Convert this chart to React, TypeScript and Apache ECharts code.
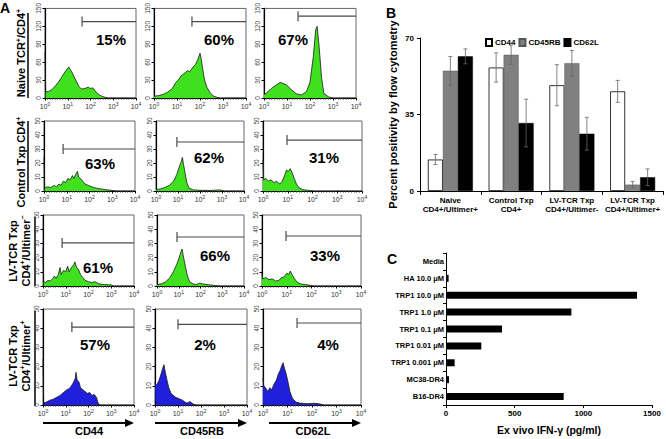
import React, { useEffect, useRef } from "react";
import * as echarts from "echarts";

const FONT = "'Liberation Sans', Arial, Helvetica, sans-serif";

// ---------------- Panel A data ----------------
const markerNames = ["CD44", "CD45RB", "CD62L"];
const rowLabels = [
  "Naive TCR{s|+}/CD4{s|+}",
  "Control Txp CD4{s|+}",
  "LV-TCR Txp\nCD4{s|+}/Ultimer{s|−}",
  "LV-TCR Txp\nCD4{s|+}/Ultimer{s|+}",
];
const histYMax = [150, 50, 50, 50];
const histYStep = [30, 10, 10, 10];
const gatePct = [
  ["15%", "60%", "67%"],
  ["63%", "62%", "31%"],
  ["61%", "66%", "33%"],
  ["57%", "2%", "4%"],
];
// gate start (log10 fluorescence) and gate level (events)
const gateStart = [
  [1.63, 1.65, 1.48],
  [0.84, 0.95, 0.97],
  [0.84, 0.92, 0.97],
  [1.27, 1.0, 1.39],
];
const gateLevel = [
  [128, 128, 137],
  [30, 35, 36.4],
  [30.3, 34.5, 35.2],
  [40.6, 42, 42.7],
];

// histograms: [log10 fluorescence, events]
const hNaiveCD44 = [[0,77],[0.03,10],[0.15,11],[0.3,14],[0.45,20],[0.6,27],[0.75,36],[0.9,45],[1.0,50],[1.05,52],[1.12,47],[1.2,42],[1.35,30],[1.5,19],[1.6,15],[1.75,16],[1.9,18],[2.0,16],[2.1,17],[2.2,12],[2.35,6],[2.5,3],[2.65,1],[2.8,0],[4,0]];
const hNaiveCD45RB = [[0,3],[0.2,4],[0.4,6],[0.6,10],[0.8,16],[0.95,26],[1.05,30],[1.2,38],[1.35,42],[1.45,46],[1.55,44],[1.7,52],[1.8,56],[1.9,64],[2.0,75],[2.05,66],[2.12,48],[2.2,30],[2.3,18],[2.45,8],[2.6,3],[2.75,1],[2.9,0],[4,0]];
const hNaiveCD62L = [[0,6],[0.1,8],[0.32,16],[0.54,22],[0.7,26],[0.8,25],[0.97,22],[1.19,14],[1.41,7],[1.63,5],[1.85,11],[2.0,27],[2.14,68],[2.25,115],[2.31,120],[2.4,85],[2.5,35],[2.6,8],[2.8,2],[3.0,0],[4,0]];
const hCtrlCD44 = [[0,24],[0.03,2],[0.15,3],[0.3,2.5],[0.45,4],[0.55,3],[0.65,5],[0.75,4],[0.85,7],[0.95,6],[1.05,9],[1.15,8],[1.25,11],[1.32,9],[1.4,12],[1.47,14],[1.52,10],[1.6,9],[1.7,7],[1.8,5],[1.95,4],[2.1,3],[2.3,2],[2.5,1.5],[2.7,1],[2.9,0.6],[3.2,0],[4,0]];
const hCtrlCD45RB = [[0,1],[0.2,1.5],[0.4,2.5],[0.6,4],[0.8,7],[0.95,12],[1.05,17],[1.15,21],[1.2,24],[1.25,19],[1.32,13],[1.4,6],[1.5,2],[1.7,0.8],[2.0,0.5],[2.5,0.4],[2.9,0.8],[3.1,0],[4,0]];
const hCtrlCD62L = [[0,22],[0.03,8],[0.12,9],[0.22,7],[0.32,8],[0.45,6],[0.55,7],[0.68,5],[0.78,7],[0.87,11],[0.95,15],[1.02,14],[1.1,16],[1.18,13],[1.26,9],[1.35,5],[1.45,2.5],[1.6,1],[1.8,0.5],[2.05,0],[4,0]];
const hNegCD44 = [[0,27],[0.03,3],[0.12,2.5],[0.22,4],[0.32,3.5],[0.42,5],[0.5,7],[0.58,5.5],[0.67,8],[0.75,13],[0.8,8],[0.9,11],[1.0,10],[1.08,14],[1.15,10],[1.25,13],[1.35,15],[1.4,17],[1.48,13],[1.55,12],[1.65,8],[1.75,6],[1.85,4],[2.0,3],[2.15,2.5],[2.3,3],[2.45,1.5],[2.7,1],[3.0,0.8],[3.1,0],[4,0]];
const hNegCD45RB = [[0,1],[0.2,1.5],[0.4,3],[0.6,6],[0.75,10],[0.9,15],[1.0,19],[1.1,24],[1.15,26],[1.2,22],[1.3,14],[1.4,7],[1.5,3],[1.65,1.5],[1.8,1],[1.95,2],[2.1,1.5],[2.3,1],[2.6,0.5],[2.9,0],[4,0]];
const hNegCD62L = [[0,9],[0.03,5],[0.15,6],[0.28,4.5],[0.42,5],[0.55,3.5],[0.68,4],[0.8,6],[0.9,6.5],[1.0,9],[1.08,8],[1.14,10.5],[1.22,8],[1.3,5.5],[1.4,3],[1.55,1.5],[1.75,1],[1.95,0.5],[2.1,0],[4,0]];
const hPosCD44 = [[0,24],[0.03,1],[0.15,1.5],[0.3,2.5],[0.45,3],[0.6,4],[0.75,5],[0.9,6.5],[1.05,8],[1.15,8.5],[1.25,10],[1.35,12],[1.42,14],[1.45,17],[1.5,13],[1.58,12],[1.65,9],[1.75,8],[1.85,7],[1.95,6],[2.05,6.5],[2.15,5],[2.25,5.5],[2.35,4],[2.42,1],[2.5,0],[4,0]];
const hPosCD45RB = [[0,12],[0.03,10],[0.1,11],[0.18,13],[0.26,16],[0.33,19],[0.39,21],[0.45,17],[0.52,13],[0.6,9],[0.7,6],[0.8,5],[0.9,4],[1.0,3.5],[1.1,3],[1.2,2.5],[1.3,1.5],[1.4,1],[1.52,1.8],[1.6,1],[1.7,0.3],[1.8,0],[4,0]];
const hPosCD62L = [[0,14],[0.03,10],[0.1,9],[0.2,7],[0.28,9],[0.36,8],[0.45,11],[0.55,13],[0.62,16],[0.7,18],[0.78,21],[0.82,22],[0.88,19],[0.95,16],[1.02,12],[1.1,7],[1.2,3.5],[1.35,1.5],[1.5,1],[1.8,0.7],[2.1,0.9],[2.3,0.6],[2.5,0],[4,0]];

const histograms = [
  [hNaiveCD44, hNaiveCD45RB, hNaiveCD62L],
  [hCtrlCD44, hCtrlCD45RB, hCtrlCD62L],
  [hNegCD44, hNegCD45RB, hNegCD62L],
  [hPosCD44, hPosCD45RB, hPosCD62L],
];

// ---------------- Panel B data ----------------
const bCategories = [
  "Naive\nCD4+/Ultimer+",
  "Control Txp\nCD4+",
  "LV-TCR Txp\nCD4+/Ultimer-",
  "LV-TCR Txp\nCD4+/Ultimer+",
];
const bSeriesNames = ["CD44", "CD45RB", "CD62L"];
const cd44Pct = [14.4, 56.5, 48.4, 45.6];
const cd44Err = [2.3, 6.7, 9.4, 5.0];
const cd45rbPct = [55.0, 62.3, 58.5, 2.9];
const cd45rbErr = [6.5, 4.4, 5.8, 1.5];
const cd62lPct = [61.6, 31.1, 26.2, 6.3];
const cd62lErr = [3.4, 10.9, 7.5, 3.8];
const bYTicks = { min: 0, max: 70, step: 35 };

// ---------------- Panel C data ----------------
const cCategories = [
  "Media",
  "HA 10.0 μM",
  "TRP1 10.0 μM",
  "TRP1 1.0 μM",
  "TRP1 0.1 μM",
  "TRP1 0.01 μM",
  "TRP1 0.001 μM",
  "MC38-DR4",
  "B16-DR4",
];
const ifng = [0, 19, 1391, 913, 408, 257, 63, 22, 857];
const cXTicks = { min: 0, max: 1500, step: 500 };

// ---------------- layout (pixels) ----------------
const HIST_GRIDS = [
  [[45, 7, 91, 91], [154, 7, 92, 91], [264, 7, 92, 91]],
  [[44, 121, 91, 70], [156, 121, 88, 70], [263, 121, 99, 70]],
  [[43, 215, 91, 71], [157, 215, 87, 71], [262, 215, 99, 71]],
  [[43, 309, 91, 96], [155, 309, 92, 96], [263, 309, 98, 96]],
];
const PCT_POS = [
  [[111, 39], [219, 39], [293, 39]],
  [[100, 163], [209, 157], [324, 157]],
  [[98, 267], [215, 255], [325, 255]],
  [[95, 344], [205, 344], [328, 344]],
];
const ROW_LABEL_POS = [
  { x: 21, y: 53, line: [28, 13, 98] },
  { x: 21, y: 162, line: [28, 121, 192] },
  { x: 19, y: 251, line: [35, 217, 286] },
  { x: 19, y: 356, line: [35, 311, 406] },
];
const ARROWS = [[43, 134, 89], [155, 247, 202], [269, 361, 313]];

const GREEN = "#3fe01e";
const BLUE = "#1f1fdc";

function buildOption() {
  const grid: any[] = [];
  const xAxis: any[] = [];
  const yAxis: any[] = [];
  const series: any[] = [];
  const graphic: any[] = [];

  histograms.forEach((row, r) => {
    row.forEach((data, c) => {
      const idx = r * 3 + c;
      const [l, t, w, h] = HIST_GRIDS[r][c];
      grid.push({ left: l, top: t, width: w, height: h, show: true, borderColor: "#666", borderWidth: 1 });
      xAxis.push({
        gridIndex: idx,
        type: "value",
        min: 0,
        max: 4,
        interval: 1,
        axisLine: { show: true, onZero: false, lineStyle: { color: "#000", width: 1 } },
        axisTick: { show: true, length: 2.5, lineStyle: { color: "#000" } },
        minorTick: { show: true, splitNumber: 9, length: 1.5, lineStyle: { color: "#333" } },
        splitLine: { show: false },
        axisLabel: {
          fontSize: 7,
          color: "#333",
          margin: 3,
          fontFamily: FONT,
          formatter: (v: number) => `10{s|${v}}`,
          rich: { s: { fontSize: 5, fontFamily: FONT, color: "#333", padding: [0, 0, 5, 0] } },
        },
      });
      yAxis.push({
        gridIndex: idx,
        type: "value",
        min: 0,
        max: histYMax[r],
        interval: histYStep[r],
        axisLine: { show: true, lineStyle: { color: "#000", width: 1.2 } },
        axisTick: { show: true, length: 2.5, lineStyle: { color: "#000" } },
        splitLine: { show: false },
        axisLabel: { rotate: 90, fontSize: 6.5, color: "#444", margin: 3, fontFamily: FONT },
      });
      series.push({
        type: "line",
        xAxisIndex: idx,
        yAxisIndex: idx,
        data,
        symbol: "none",
        showSymbol: false,
        lineStyle: { width: 0.8, color: "#1a1a1a" },
        areaStyle: { color: r === 3 ? BLUE : GREEN, opacity: 1 },
        z: 2,
      });
      series.push({
        type: "custom",
        xAxisIndex: idx,
        yAxisIndex: idx,
        data: [[gateStart[r][c], gateLevel[r][c]]],
        z: 3,
        renderItem: (params: any, api: any) => {
          const p = api.coord([api.value(0), api.value(1)]);
          const cs = params.coordSys;
          const x2 = cs.x + cs.width;
          const st = { stroke: "#4a4a4a", lineWidth: 1.2 };
          return {
            type: "group",
            children: [
              { type: "line", shape: { x1: p[0], y1: p[1], x2, y2: p[1] }, style: st },
              { type: "line", shape: { x1: p[0], y1: p[1] - 5, x2: p[0], y2: p[1] + 5 }, style: st },
            ],
          };
        },
      });
      const [px, py] = PCT_POS[r][c];
      graphic.push({
        type: "text",
        x: px,
        y: py,
        z: 10,
        style: {
          text: gatePct[r][c],
          fontFamily: FONT,
          fontWeight: "bold",
          fontSize: 15,
          fill: "#000",
          align: "center",
          verticalAlign: "middle",
        },
      });
    });
  });

  // Row labels + bracket lines
  rowLabels.forEach((txt, r) => {
    const pos = ROW_LABEL_POS[r];
    graphic.push({
      type: "text",
      x: pos.x,
      y: pos.y,
      rotation: Math.PI / 2,
      style: {
        text: txt,
        fontFamily: FONT,
        fontWeight: "bold",
        fontSize: 11,
        lineHeight: 13,
        fill: "#000",
        align: "center",
        verticalAlign: "middle",
        rich: { s: { fontSize: 7, fontFamily: FONT, fontWeight: "bold", padding: [0, 0, 6, 0], lineHeight: 13 } },
      },
    });
    const [lx, ly1, ly2] = pos.line;
    graphic.push({ type: "line", shape: { x1: lx, y1: ly1, x2: lx, y2: ly2 }, style: { stroke: "#000", lineWidth: 1.5 } });
  });

  // Bottom arrows and marker names
  ARROWS.forEach(([x1, x2, cx], i) => {
    graphic.push({ type: "line", shape: { x1, y1: 423, x2: x2 - 7, y2: 423 }, style: { stroke: "#000", lineWidth: 2 } });
    graphic.push({ type: "polygon", shape: { points: [[x2 - 9, 419], [x2, 423], [x2 - 9, 427]] }, style: { fill: "#000" } });
    graphic.push({
      type: "text",
      x: cx,
      y: 431,
      style: { text: markerNames[i], fontFamily: FONT, fontWeight: "bold", fontSize: 11, fill: "#000", align: "center", verticalAlign: "middle" },
    });
  });

  // Panel letters
  [["A", 5, 8], ["B", 391, 13], ["C", 392, 259]].forEach(([t, x, y]) => {
    graphic.push({
      type: "text",
      x,
      y,
      style: { text: t, fontFamily: FONT, fontWeight: "bold", fontSize: 14, fill: "#000", align: "center", verticalAlign: "middle" },
    });
  });

  // ---------------- Panel B ----------------
  const bIdx = grid.length;
  grid.push({ left: 420, top: 38, width: 243, height: 153 });
  xAxis.push({
    gridIndex: bIdx,
    type: "category",
    data: bCategories,
    axisLine: { show: true, lineStyle: { color: "#000", width: 1 } },
    axisTick: { show: true, alignWithLabel: false, length: 4, lineStyle: { color: "#000" } },
    axisLabel: { interval: 0, fontSize: 8, fontWeight: "bold", color: "#000", lineHeight: 9, margin: 5, fontFamily: FONT },
  });
  yAxis.push({
    gridIndex: bIdx,
    type: "value",
    min: bYTicks.min,
    max: bYTicks.max,
    interval: bYTicks.step,
    axisLine: { show: true, lineStyle: { color: "#000", width: 1 } },
    axisTick: { show: true, length: 3, lineStyle: { color: "#000" } },
    splitLine: { show: false },
    axisLabel: { fontSize: 8, fontWeight: "bold", color: "#000", margin: 6, fontFamily: FONT },
    name: "Percent positivity by flow cytometry",
    nameLocation: "middle",
    nameGap: 22,
    nameTextStyle: { fontSize: 11, fontWeight: "bold", color: "#000", fontFamily: FONT },
  });
  const bVals = [cd44Pct, cd45rbPct, cd62lPct];
  const bErrs = [cd44Err, cd45rbErr, cd62lErr];
  const bStyles = [
    { color: "#ffffff", borderColor: "#000", borderWidth: 0.8 },
    { color: "#808080", borderColor: "#555", borderWidth: 0.5 },
    { color: "#000000", borderColor: "#000", borderWidth: 0.5 },
  ];
  const BAR_W = 15;
  bSeriesNames.forEach((name, s) => {
    series.push({
      type: "bar",
      name,
      xAxisIndex: bIdx,
      yAxisIndex: bIdx,
      data: bVals[s],
      barWidth: BAR_W,
      barGap: "0%",
      itemStyle: bStyles[s],
    });
  });
  bSeriesNames.forEach((name, s) => {
    const offset = (s - 1) * BAR_W;
    series.push({
      type: "custom",
      xAxisIndex: bIdx,
      yAxisIndex: bIdx,
      data: bVals[s].map((v, i) => [i, v, bErrs[s][i]]),
      z: 5,
      renderItem: (params: any, api: any) => {
        const i = api.value(0);
        const v = api.value(1);
        const e = api.value(2);
        const x = api.coord([i, 0])[0] + offset;
        const yHi = api.coord([i, v + e])[1];
        const yLo = api.coord([i, v - e])[1];
        const st = { stroke: "#666", lineWidth: 0.8 };
        return {
          type: "group",
          children: [
            { type: "line", shape: { x1: x, y1: yHi, x2: x, y2: yLo }, style: st },
            { type: "line", shape: { x1: x - 2, y1: yHi, x2: x + 2, y2: yHi }, style: st },
            { type: "line", shape: { x1: x - 2, y1: yLo, x2: x + 2, y2: yLo }, style: st },
          ],
        };
      },
    });
  });

  // ---------------- Panel C ----------------
  const cIdx = grid.length;
  grid.push({ left: 446, top: 253, width: 206, height: 152 });
  xAxis.push({
    gridIndex: cIdx,
    type: "value",
    min: cXTicks.min,
    max: cXTicks.max,
    interval: cXTicks.step,
    axisLine: { show: true, lineStyle: { color: "#000", width: 1 } },
    axisTick: { show: true, length: 3, lineStyle: { color: "#000" } },
    splitLine: { show: false },
    axisLabel: { fontSize: 8, fontWeight: "bold", color: "#000", margin: 4, fontFamily: FONT, formatter: (v: number) => String(v) },
    name: "Ex vivo IFN-γ (pg/ml)",
    nameLocation: "middle",
    nameGap: 19,
    nameTextStyle: { fontSize: 10.5, fontWeight: "bold", color: "#000", fontFamily: FONT },
  });
  yAxis.push({
    gridIndex: cIdx,
    type: "category",
    data: cCategories,
    inverse: true,
    axisLine: { show: true, lineStyle: { color: "#000", width: 1 } },
    axisTick: { show: true, length: 3, lineStyle: { color: "#000" } },
    axisLabel: { interval: 0, fontSize: 7.5, fontWeight: "bold", color: "#000", margin: 2, fontFamily: FONT },
  });
  series.push({
    type: "bar",
    xAxisIndex: cIdx,
    yAxisIndex: cIdx,
    data: ifng,
    barWidth: 7,
    itemStyle: { color: "#000" },
  });

  return {
    animation: false,
    backgroundColor: "#fff",
    textStyle: { fontFamily: FONT },
    grid,
    xAxis,
    yAxis,
    series,
    graphic,
    legend: {
      data: bSeriesNames,
      left: 480,
      top: 33,
      itemWidth: 6,
      itemHeight: 7,
      itemGap: 3,
      icon: "rect",
      textStyle: { fontSize: 8, fontWeight: "bold", color: "#000", fontFamily: FONT, padding: [0, 0, 0, -2] },
    },
  };
}

export default function App() {
  const ref = useRef<HTMLDivElement>(null);
  useEffect(() => {
    if (!ref.current) return;
    const chart = echarts.init(ref.current, undefined, { renderer: "svg" });
    chart.setOption(buildOption() as any);
    return () => chart.dispose();
  }, []);
  return (
    <div
      ref={ref}
      style={{ position: "fixed", left: 0, top: 0, width: 666, height: 439, background: "#fff" }}
    />
  );
}
